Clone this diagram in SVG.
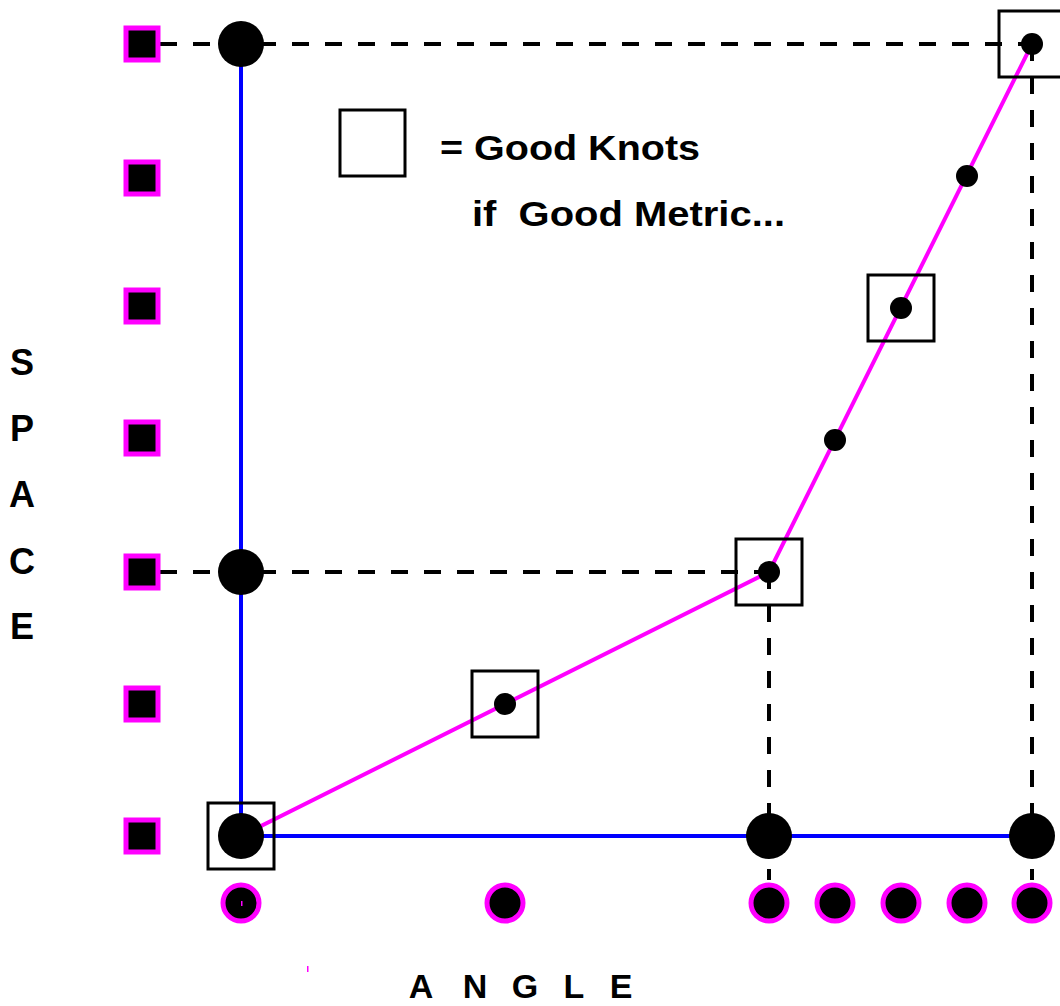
<svg xmlns="http://www.w3.org/2000/svg" width="1060" height="1006" viewBox="0 0 1060 1006">
<style>
.dash{stroke:#000;stroke-width:4;stroke-dasharray:17 16;fill:none}
.blue{stroke:#0000ff;stroke-width:4;fill:none}
.mag{stroke:#ff00ff;stroke-width:4;fill:none}
.msq{fill:#000;stroke:#ff00ff;stroke-width:5}
.mci{fill:#000;stroke:#ff00ff;stroke-width:5}
.big{fill:#000}
.dot{fill:#000}
.knot{fill:none;stroke:#000;stroke-width:3}
.t{font-family:"Liberation Sans",Arial,sans-serif;font-weight:bold;fill:#000}
</style>
<rect width="1060" height="1006" fill="#fff"/>
<g id="connectors">
<path class="dash" d="M160 44H1032M160 572H769M769 572V880M1032 44V880"/>
<path class="blue" d="M241 44V836H1032"/>
<polyline class="mag" points="241,836 769,572 1032,44"/>
</g>
<g id="space-ticks">
<rect class="msq" x="126" y="28" width="32" height="32"/>
<rect class="msq" x="126" y="162" width="32" height="32"/>
<rect class="msq" x="126" y="290" width="32" height="32"/>
<rect class="msq" x="126" y="422" width="32" height="32"/>
<rect class="msq" x="126" y="556" width="32" height="32"/>
<rect class="msq" x="126" y="688" width="32" height="32"/>
<rect class="msq" x="126" y="820" width="32" height="32"/>
</g>
<g id="angle-ticks">
<circle class="mci" cx="241" cy="903" r="18"/>
<circle class="mci" cx="505" cy="903" r="18"/>
<circle class="mci" cx="769" cy="903" r="18"/>
<circle class="mci" cx="835" cy="903" r="18"/>
<circle class="mci" cx="901" cy="903" r="18"/>
<circle class="mci" cx="967" cy="903" r="18"/>
<circle class="mci" cx="1032" cy="903" r="18"/>
<rect x="241" y="901" width="1.5" height="5" fill="#ff00ff"/>
<rect x="307" y="966" width="1.5" height="6" fill="#ff00ff"/>
</g>
<g id="grid-nodes">
<circle class="big" cx="241" cy="44" r="23"/>
<circle class="big" cx="241" cy="572" r="23"/>
<circle class="big" cx="241" cy="836" r="23"/>
<circle class="big" cx="769" cy="836" r="23"/>
<circle class="big" cx="1032" cy="836" r="23"/>
</g>
<g id="knots">
<circle class="dot" cx="505" cy="704" r="11"/>
<circle class="dot" cx="769" cy="572" r="11"/>
<circle class="dot" cx="835" cy="440" r="11"/>
<circle class="dot" cx="901" cy="308" r="11"/>
<circle class="dot" cx="967" cy="176" r="11"/>
<circle class="dot" cx="1032" cy="44" r="11"/>
</g>
<g id="good-knots">
<rect class="knot" x="208" y="803" width="66" height="66"/>
<rect class="knot" x="472" y="671" width="66" height="66"/>
<rect class="knot" x="736" y="539" width="66" height="66"/>
<rect class="knot" x="868" y="275" width="66" height="66"/>
<rect class="knot" x="999" y="11" width="66" height="66"/>
</g>
<g id="legend">
<rect class="knot" x="340" y="110" width="65" height="66"/>
<text class="t" x="440" y="160" font-size="35" textLength="260" lengthAdjust="spacingAndGlyphs">= Good Knots</text>
<text class="t" x="472" y="226" font-size="35" textLength="313" lengthAdjust="spacingAndGlyphs" xml:space="preserve">if  Good Metric...</text>
</g>
<g id="axis-labels">
<text class="t" font-size="36" text-anchor="middle" x="22" y="375">S</text>
<text class="t" font-size="36" text-anchor="middle" x="22" y="441">P</text>
<text class="t" font-size="36" text-anchor="middle" x="22" y="507">A</text>
<text class="t" font-size="36" text-anchor="middle" x="22" y="574">C</text>
<text class="t" font-size="36" text-anchor="middle" x="22" y="639">E</text>
<text class="t" font-size="34" text-anchor="middle" x="421" y="998">A</text>
<text class="t" font-size="34" text-anchor="middle" x="475" y="998">N</text>
<text class="t" font-size="34" text-anchor="middle" x="525" y="998">G</text>
<text class="t" font-size="34" text-anchor="middle" x="574" y="998">L</text>
<text class="t" font-size="34" text-anchor="middle" x="621" y="998">E</text>
</g>
</svg>
